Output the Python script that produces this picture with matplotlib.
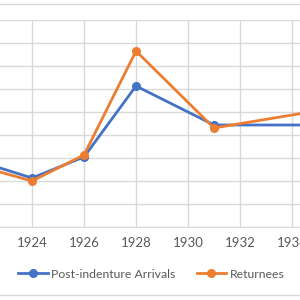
import matplotlib.pyplot as plt
from matplotlib.lines import Line2D

# Data (y units are arbitrary - axis labels are cropped out)
years = [1922, 1924, 1926, 1928, 1931, 1936]
arrivals = [568, 426, 609, 1226, 887, 887]
returnees = [527, 400, 626, 1530, 861, 1049]
xticks = [1924, 1926, 1928, 1930, 1932, 1934]

blue = '#4472C4'
orange = '#ED7D31'
grid = '#D9D9D9'

plt.rcParams['font.family'] = ['Lato', 'DejaVu Sans']

fig = plt.figure(figsize=(3, 3), dpi=100)
ax = fig.add_axes([0, 73 / 300, 1, 207 / 300])

ax.plot(years, arrivals, '-o', color=blue, lw=2.0, ms=5.5, label='Post-indenture Arrivals', zorder=3)
ax.plot(years, returnees, '-o', color=orange, lw=2.0, ms=5.5, label='Returnees', zorder=4)

ax.set_xticks(xticks)
ax.set_yticks(range(0, 1801, 200))
ax.set_yticklabels([])
ax.set_xlim(1924 - 32 / 26, 1924 + 268 / 26)
ax.set_ylim(0, 1800)
ax.grid(True, color=grid, lw=1.0)
ax.set_axisbelow(True)
for s in ['left', 'right', 'top']:
    ax.spines[s].set_visible(False)
ax.spines['bottom'].set_color(grid)
ax.tick_params(axis='x', length=0, pad=7.5, labelsize=9.5, labelcolor='#595959')
ax.tick_params(axis='y', length=0)

# borders of the chart area (cropped)
fig.add_artist(Line2D([0, 1], [1 - 4 / 300, 1 - 4 / 300], color=grid, lw=1.0))
fig.add_artist(Line2D([0, 1], [5 / 300, 5 / 300], color=grid, lw=1.0))

fig.legend(loc='center', bbox_to_anchor=(0.505, 1 - 274 / 300), ncol=2, frameon=False,
           fontsize=8.8, handlelength=2.4, handletextpad=0.3, columnspacing=1.7,
           labelcolor='#595959')

fig.savefig('out.png', dpi=100)
